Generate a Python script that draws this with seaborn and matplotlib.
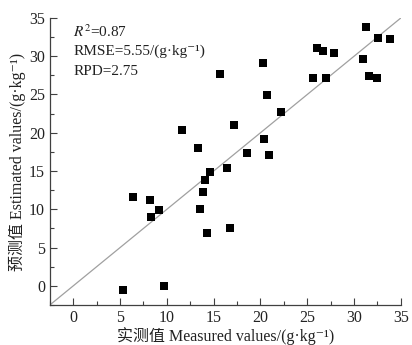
import seaborn as sns
import pandas as pd
import matplotlib
matplotlib.use("Agg")
import matplotlib.pyplot as plt
from matplotlib.ticker import MultipleLocator

# Measured vs estimated values (g·kg-1)
measured = [31.25, 32.55, 33.8, 26.07, 26.66, 27.9, 30.97, 20.29, 15.66, 25.65,
            27.05, 31.64, 32.4, 20.74, 22.18, 11.6, 17.17, 20.4, 13.38, 18.6,
            20.88, 16.47, 14.61, 14.08, 13.87, 6.34, 8.2, 9.11, 8.3, 13.49,
            16.78, 14.3, 5.36, 9.74]
estimated = [33.8, 32.35, 32.2, 31.1, 30.7, 30.45, 29.6, 29.05, 27.7, 27.15,
             27.15, 27.45, 27.2, 24.9, 22.7, 20.3, 21.0, 19.2, 18.0, 17.35,
             17.05, 15.35, 14.9, 13.83, 12.3, 11.6, 11.2, 9.9, 8.93, 10.1,
             7.6, 6.95, -0.5, -0.04]
line_ends = [-2.5, 35]

df = pd.DataFrame({"measured": measured, "estimated": estimated})

sns.set_style("ticks")
plt.rcParams["font.family"] = ["Liberation Serif", "Noto Sans CJK SC", "DejaVu Serif"]
plt.rcParams["mathtext.fontset"] = "stix"

fig = plt.figure(figsize=(4.12, 3.45), dpi=100)
ax = fig.add_axes([0.121, 0.116, 0.852, 0.832])

ax.plot(line_ends, line_ends, color="#a0a0a0", lw=0.9, zorder=1)
sns.scatterplot(data=df, x="measured", y="estimated", marker="s", s=34,
                color="black", edgecolor="black", linewidth=0, ax=ax, zorder=2)

ax.set_xlim(-2.5, 35)
ax.set_ylim(-2.5, 35)
ax.xaxis.set_major_locator(MultipleLocator(5))
ax.yaxis.set_major_locator(MultipleLocator(5))
ax.xaxis.set_minor_locator(MultipleLocator(2.5))
ax.yaxis.set_minor_locator(MultipleLocator(2.5))
ax.tick_params(which="both", direction="in", color="#404040", labelsize=11.5, labelcolor="#222222")
ax.tick_params(which="major", length=5, width=0.8)
ax.tick_params(which="minor", length=3, width=0.8)
for s in ["left", "bottom"]:
    ax.spines[s].set_color("#404040")
    ax.spines[s].set_linewidth(0.9)
sns.despine(ax=ax)

ax.set_xlabel("实测值 Measured values/(g·kg⁻¹)", fontsize=11.5, labelpad=1, color="#222222")
ax.set_ylabel("预测值 Estimated values/(g·kg⁻¹)", fontsize=11.5, labelpad=2, color="#222222")

ax.text(0, 33.2, "$R^2$=0.87", fontsize=11, color="#222222", va="center")
ax.text(0, 30.6, "RMSE=5.55/(g·kg⁻¹)", fontsize=11, color="#222222", va="center")
ax.text(0, 28.0, "RPD=2.75", fontsize=11, color="#222222", va="center")

fig.savefig("out.png", dpi=100)
